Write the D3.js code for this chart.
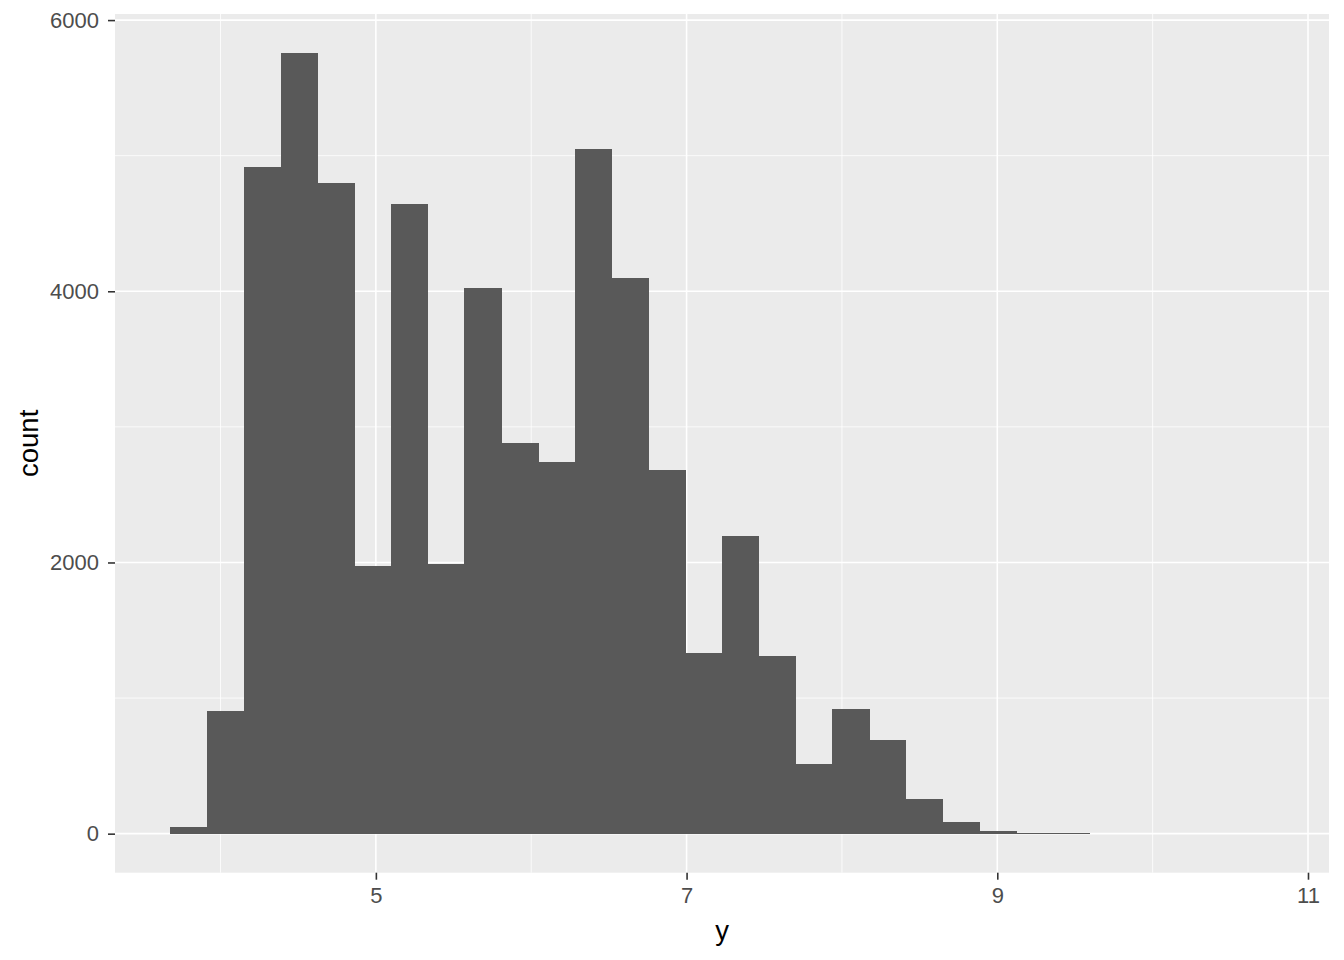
<!DOCTYPE html>
<html lang="en">
<head>
    <meta charset="UTF-8">
    <title>Histogram of y</title>
    <script src="https://d3js.org/d3.v7.min.js"></script>
    <style>
        body { margin: 0; background: #fff; font-family: "Liberation Sans", Arial, sans-serif; }
    </style>
</head>
<body>
    <svg id="chart" width="1344" height="960"></svg>
    <script>
        // histogram bins (30 bins over the data range)
        const binStart = 3.676;
        const binEnd = 10.78;
        const counts = [48, 905, 4916, 5757, 4798, 1973, 4643, 1988, 4023, 2880,
                        2740, 5049, 4097, 2681, 1331, 2194, 1309, 513, 918, 690,
                        254, 85, 20, 5, 4, 0, 0, 0, 0, 0];
        const xTicks = [5, 7, 9, 11];
        const xMinor = [4, 6, 8, 10];
        const yTicks = [0, 2000, 4000, 6000];
        const yMinor = [1000, 3000, 5000];

        const panel = { left: 115, right: 1329, top: 14, bottom: 872.7 };
        const svg = d3.select("#chart");

        const binWidth = (binEnd - binStart) / counts.length;
        const bins = counts.map((c, i) => ({
            x0: binStart + i * binWidth,
            x1: binStart + (i + 1) * binWidth,
            count: c
        }));

        const xPad = (binEnd - binStart) * 0.05;
        const x = d3.scaleLinear()
            .domain([binStart - xPad, binEnd + xPad])
            .range([panel.left, panel.right]);
        const yMax = d3.max(counts);
        const y = d3.scaleLinear()
            .domain([-0.05 * yMax, 1.05 * yMax])
            .range([panel.bottom, panel.top]);

        // panel background
        svg.append("rect")
            .attr("x", panel.left).attr("y", panel.top)
            .attr("width", panel.right - panel.left)
            .attr("height", panel.bottom - panel.top)
            .attr("fill", "#ebebeb");

        // grid lines
        const grid = svg.append("g").attr("stroke", "#fff");
        grid.selectAll(".xminor").data(xMinor).join("line")
            .attr("x1", d => x(d)).attr("x2", d => x(d))
            .attr("y1", panel.top).attr("y2", panel.bottom)
            .attr("stroke-width", 0.8);
        grid.selectAll(".yminor").data(yMinor).join("line")
            .attr("y1", d => y(d)).attr("y2", d => y(d))
            .attr("x1", panel.left).attr("x2", panel.right)
            .attr("stroke-width", 0.8);
        grid.selectAll(".xmajor").data(xTicks).join("line")
            .attr("x1", d => x(d)).attr("x2", d => x(d))
            .attr("y1", panel.top).attr("y2", panel.bottom)
            .attr("stroke-width", 1.6);
        grid.selectAll(".ymajor").data(yTicks).join("line")
            .attr("y1", d => y(d)).attr("y2", d => y(d))
            .attr("x1", panel.left).attr("x2", panel.right)
            .attr("stroke-width", 1.6);

        // bars
        svg.append("g")
            .attr("shape-rendering", "crispEdges")
            .selectAll(".bar")
            .data(bins.filter(b => b.count > 0))
            .join("rect")
            .attr("class", "bar")
            .attr("x", d => x(d.x0))
            .attr("width", d => x(d.x1) - x(d.x0) + 0.5)
            .attr("y", d => y(d.count))
            .attr("height", d => y(0) - y(d.count))
            .attr("fill", "#595959");

        // axes
        const xAxis = svg.append("g")
            .attr("transform", `translate(0,${panel.bottom})`)
            .call(d3.axisBottom(x).tickValues(xTicks).tickSize(7).tickPadding(8).tickFormat(d3.format("d")));
        const yAxis = svg.append("g")
            .attr("transform", `translate(${panel.left},0)`)
            .call(d3.axisLeft(y).tickValues(yTicks).tickSize(7).tickPadding(9).tickFormat(d3.format("d")));
        [xAxis, yAxis].forEach(a => {
            a.select(".domain").remove();
            a.attr("font-size", null).attr("font-family", null);
            a.selectAll(".tick line").attr("stroke", "#333").attr("stroke-width", 1.6);
            a.selectAll(".tick text")
                .attr("fill", "#4d4d4d")
                .style("font-size", "22px")
                .style("font-family", "Liberation Sans, Arial, sans-serif");
        });

        // axis titles
        svg.append("text")
            .attr("x", (panel.left + panel.right) / 2)
            .attr("y", 940)
            .attr("text-anchor", "middle")
            .style("font-size", "27.5px")
            .attr("fill", "#000")
            .text("y");
        svg.append("text")
            .attr("transform", `translate(38,${(panel.top + panel.bottom) / 2}) rotate(-90)`)
            .attr("text-anchor", "middle")
            .style("font-size", "27.5px")
            .attr("fill", "#000")
            .text("count");
    </script>
</body>
</html>
